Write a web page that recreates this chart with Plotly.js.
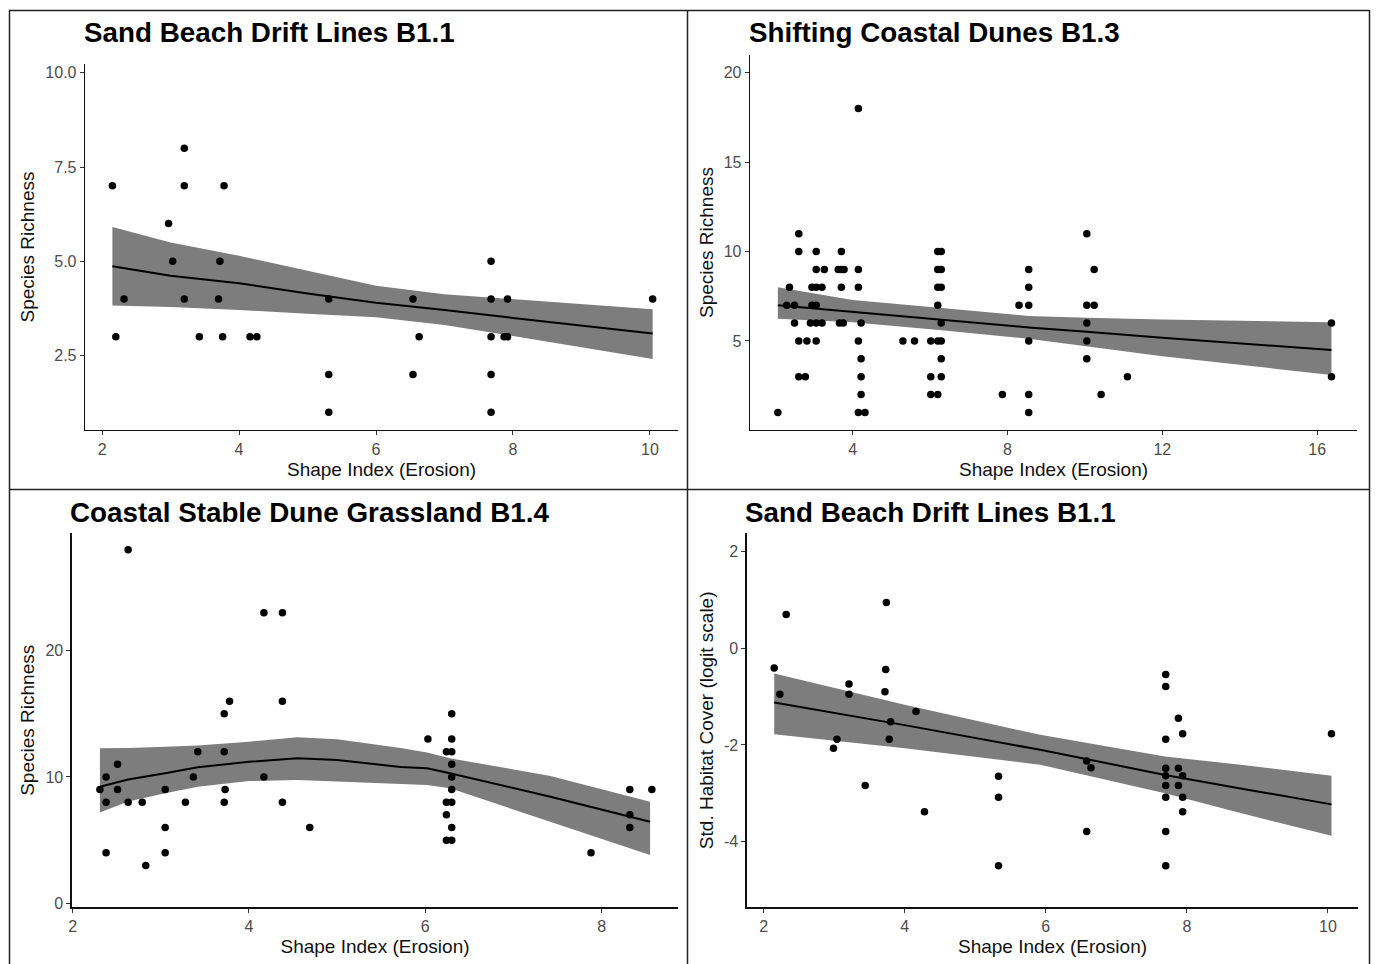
<!DOCTYPE html>
<html>
<head>
<meta charset="utf-8">
<script src="https://cdn.plot.ly/plotly-3.0.1.min.js"></script>
<style>html,body{margin:0;padding:0;background:#fff;}#chart{width:1376px;height:964px;}</style>
</head>
<body>
<div id="chart"></div>
<script>
// ---------- Data ----------
// Panel 1: Sand Beach Drift Lines B1.1 — Species Richness
const p1X = [2.15, 2.2, 2.32, 2.97, 3.03, 3.2, 3.2, 3.2, 3.42, 3.7, 3.72, 3.76, 3.78, 4.16, 4.26, 5.31, 5.31, 5.31, 6.54, 6.54, 6.63, 7.68, 7.68, 7.68, 7.68, 7.68, 7.87, 7.92, 7.92, 10.04];
const p1Y = [7, 3, 4, 6, 5, 8, 7, 4, 3, 4, 5, 3, 7, 3, 3, 4, 2, 1, 4, 2, 3, 5, 4, 3, 2, 1, 3, 3, 4, 4];
const fit1X = [2.15, 3, 4, 5, 6, 7, 8, 9, 10.04];
const fit1Y = [4.87, 4.62, 4.42, 4.15, 3.9, 3.71, 3.5, 3.3, 3.09];
const fit1Hi = [5.91, 5.5, 5.15, 4.75, 4.35, 4.13, 4.0, 3.85, 3.73];
const fit1Lo = [3.83, 3.79, 3.71, 3.61, 3.52, 3.31, 3.02, 2.73, 2.41];

// Panel 2: Shifting Coastal Dunes B1.3 — Species Richness
const p2X = [2.61, 2.61, 3.06, 3.71, 3.06, 3.27, 3.63, 3.71, 3.78, 4.15,
             2.37, 2.95, 3.06, 3.21, 3.71, 4.15, 2.30, 2.50, 2.95, 3.06,
             2.50, 2.91, 3.06, 3.21, 3.66, 3.76, 4.22, 2.61, 2.82, 3.06, 4.15,
             4.22, 2.61, 2.78, 4.22, 4.22, 2.07, 4.15, 4.32, 4.15,
             6.20, 6.29, 6.20, 6.29, 8.55, 6.20, 6.29, 8.55, 6.20, 8.30, 8.55,
             6.29, 5.30, 5.60, 6.02, 6.20, 6.29, 8.55, 6.29, 6.02, 6.29,
             6.02, 6.20, 7.87, 8.55, 8.55,
             10.05, 10.24, 10.05, 10.24, 10.05, 10.05, 10.05, 11.1, 10.42, 16.37, 16.37];
const p2Y = [11, 10, 10, 10, 9, 9, 9, 9, 9, 9,
             8, 8, 8, 8, 8, 8, 7, 7, 7, 7,
             6, 6, 6, 6, 6, 6, 6, 5, 5, 5, 5,
             4, 3, 3, 3, 2, 1, 1, 1, 18,
             10, 10, 9, 9, 9, 8, 8, 8, 7, 7, 7,
             6, 5, 5, 5, 5, 5, 5, 4, 3, 3,
             2, 2, 2, 2, 1,
             11, 9, 7, 7, 6, 5, 4, 3, 2, 6, 3];
const fit2X = [2.07, 4, 6.3, 8.55, 10.05, 12, 16.37];
const fit2Y = [7.0, 6.63, 6.17, 5.76, 5.51, 5.18, 4.49];
const fit2Hi = [8.0, 7.3, 6.85, 6.4, 6.3, 6.2, 6.05];
const fit2Lo = [6.25, 6.05, 5.6, 5.12, 4.7, 4.15, 3.1];

// Panel 3: Coastal Stable Dune Grassland B1.4 — Species Richness
const p3X = [2.31, 2.38, 2.38, 2.38, 2.51, 2.51, 2.63, 2.63, 2.79, 2.83, 3.05, 3.05, 3.05, 3.28, 3.37, 3.42,
             3.72, 3.78, 3.72, 3.73, 3.72, 4.17, 4.38, 4.38, 4.17, 4.38, 4.69,
             6.30, 6.03, 6.30, 6.24, 6.30, 6.30, 6.30, 6.30, 6.24, 6.30, 6.24, 6.30, 6.24, 6.30,
             7.88, 8.32, 8.57, 8.32, 8.32];
const p3Y = [9, 10, 8, 4, 11, 9, 28, 8, 8, 3, 9, 6, 4, 8, 10, 12,
             15, 16, 12, 9, 8, 23, 23, 16, 10, 8, 6,
             15, 13, 13, 12, 12, 11, 10, 9, 8, 8, 7, 6, 5, 5,
             4, 9, 9, 7, 6];
const fit3X = [2.31, 2.63, 3.05, 3.42, 4.0, 4.55, 5.0, 5.72, 6.02, 6.28, 7.42, 8.55];
const fit3Y = [9.23, 9.8, 10.3, 10.77, 11.2, 11.48, 11.35, 10.8, 10.69, 10.3, 8.44, 6.46];
const fit3Hi = [12.27, 12.3, 12.4, 12.5, 12.8, 13.14, 12.98, 12.3, 11.93, 11.48, 10.08, 8.04];
const fit3Lo = [7.18, 8.05, 8.71, 9.23, 9.68, 9.76, 9.63, 9.45, 9.37, 9.1, 6.46, 3.82];

// Panel 4: Sand Beach Drift Lines B1.1 — Std. Habitat Cover (logit scale)
const p4X = [2.15, 2.23, 2.32, 2.99, 3.04, 3.21, 3.21, 3.44, 3.74, 3.73, 3.72, 3.80, 3.78, 4.16, 4.28, 5.33, 5.33, 5.33,
             6.58, 6.64, 6.58, 7.70, 7.70, 7.70, 7.70, 7.70, 7.70, 7.70, 7.70, 7.70,
             7.88, 7.94, 7.88, 7.94, 7.88, 7.94, 7.94, 10.05];
const p4Y = [-0.41, -0.95, 0.70, -2.07, -1.88, -0.74, -0.95, -2.84, 0.95, -0.44, -0.90, -1.52, -1.88, -1.31, -3.38, -2.65, -3.08, -4.50,
             -2.33, -2.47, -3.79, -0.54, -0.79, -1.88, -2.48, -2.64, -2.84, -3.08, -3.79, -4.50,
             -1.45, -1.77, -2.48, -2.64, -2.84, -3.08, -3.38, -1.77];
const fit4X = [2.15, 4, 5.92, 7.69, 8.76, 10.05];
const fit4Y = [-1.12, -1.59, -2.10, -2.62, -2.90, -3.23];
const fit4Hi = [-0.52, -1.17, -1.79, -2.24, -2.41, -2.64];
const fit4Lo = [-1.78, -2.07, -2.41, -3.0, -3.41, -3.88];

// Titles and tick labels
const titles = ["Sand Beach Drift Lines B1.1", "Shifting Coastal Dunes B1.3", "Coastal Stable Dune Grassland B1.4", "Sand Beach Drift Lines B1.1"];
const xTitle = "Shape Index (Erosion)";
const yTitles = ["Species Richness", "Species Richness", "Species Richness", "Std. Habitat Cover (logit scale)"];
const xTicks1 = [2, 4, 6, 8, 10];
const yTicks1 = [2.5, 5, 7.5, 10];
const yTickText1 = ["2.5", "5.0", "7.5", "10.0"];
const xTicks2 = [4, 8, 12, 16];
const yTicks2 = [5, 10, 15, 20];
const xTicks3 = [2, 4, 6, 8];
const yTicks3 = [0, 10, 20];
const xTicks4 = [2, 4, 6, 8, 10];
const yTicks4 = [-4, -2, 0, 2];
const yTickText4 = ["-4", "-2", "0", "2"];

// ---------- Build ----------
const W = 1376, H = 964;
const PX = v => v / W;
const PY = v => 1 - v / H;
const FONT = "Liberation Sans, Arial, Helvetica, sans-serif";

function panel(xs, ys, fx, fy, hi, lo, n) {
  const xa = n === 1 ? 'x' : 'x' + n;
  const ya = n === 1 ? 'y' : 'y' + n;
  return [
    { type: 'scatter', mode: 'lines', x: fx.concat(fx.slice().reverse()), y: hi.concat(lo.slice().reverse()),
      fill: 'toself', fillcolor: 'rgb(125,125,125)', line: { width: 0, color: 'rgba(0,0,0,0)' },
      xaxis: xa, yaxis: ya, hoverinfo: 'skip' },
    { type: 'scatter', mode: 'lines', x: fx, y: fy, line: { color: '#000', width: 2 }, xaxis: xa, yaxis: ya },
    { type: 'scatter', mode: 'markers', x: xs, y: ys, marker: { color: '#000', size: 7.5 }, xaxis: xa, yaxis: ya }
  ];
}

const data = [].concat(
  panel(p1X, p1Y, fit1X, fit1Y, fit1Hi, fit1Lo, 1),
  panel(p2X, p2Y, fit2X, fit2Y, fit2Hi, fit2Lo, 2),
  panel(p3X, p3Y, fit3X, fit3Y, fit3Hi, fit3Lo, 3),
  panel(p4X, p4Y, fit4X, fit4Y, fit4Hi, fit4Lo, 4)
);

function ax(extra) {
  return Object.assign({
    showgrid: false, zeroline: false, showline: true, linecolor: '#111', linewidth: 1.3,
    ticks: 'outside', ticklen: 4, tickwidth: 1, tickcolor: '#333',
    tickfont: { family: FONT, size: 16, color: '#4d4d4d' },
    fixedrange: true
  }, extra);
}
function xt() { return { text: xTitle, font: { family: FONT, size: 19, color: '#111' }, standoff: 6 }; }
function yt(i) { return { text: yTitles[i], font: { family: FONT, size: 19, color: '#111' }, standoff: 5 }; }

const layout = {
  width: W, height: H,
  margin: { l: 0, r: 0, t: 0, b: 0 },
  paper_bgcolor: '#fff', plot_bgcolor: '#fff',
  showlegend: false, hovermode: false,
  xaxis:  ax({ domain: [PX(85), PX(678)], range: [1.75, 10.41], anchor: 'y', tickvals: xTicks1, title: xt() }),
  yaxis:  ax({ domain: [PY(430), PY(64)], range: [0.53, 10.23], anchor: 'x', tickvals: yTicks1, ticktext: yTickText1, title: yt(0) }),
  xaxis2: ax({ domain: [PX(750), PX(1357)], range: [1.35, 17.03], anchor: 'y2', tickvals: xTicks2, title: xt() }),
  yaxis2: ax({ domain: [PY(430), PY(55)], range: [0.02, 21], anchor: 'x2', tickvals: yTicks2, title: yt(1) }),
  xaxis3: ax({ domain: [PX(71.7), PX(678.3)], range: [1.99, 8.87], anchor: 'y3', tickvals: xTicks3, title: xt() }),
  yaxis3: ax({ domain: [PY(907.3), PY(533.3)], range: [-0.32, 29.3], anchor: 'x3', tickvals: yTicks3, title: yt(2) }),
  xaxis4: ax({ domain: [PX(746.7), PX(1358.3)], range: [1.76, 10.43], anchor: 'y4', tickvals: xTicks4, title: xt() }),
  yaxis4: ax({ domain: [PY(907.3), PY(533.3)], range: [-5.36, 2.38], anchor: 'x4', tickvals: yTicks4, ticktext: yTickText4, title: yt(3) }),
  annotations: [
    [82, 33], [747, 33], [68, 512], [743, 512]
  ].map((p, i) => ({
    text: titles[i], xref: 'paper', yref: 'paper', x: PX(p[0]), y: PY(p[1]),
    xanchor: 'left', yanchor: 'middle', showarrow: false,
    font: { family: FONT, size: 27.8, color: '#000', weight: 'bold' }
  })),
  shapes: [
    { type: 'rect', xref: 'paper', yref: 'paper', x0: PX(9.5), x1: PX(1369.5), y0: PY(970), y1: PY(10.5), line: { color: '#222', width: 1.5 } },
    { type: 'line', xref: 'paper', yref: 'paper', x0: PX(687.5), x1: PX(687.5), y0: PY(970), y1: PY(10.5), line: { color: '#222', width: 1.5 } },
    { type: 'line', xref: 'paper', yref: 'paper', x0: PX(9.5), x1: PX(1369.5), y0: PY(489.5), y1: PY(489.5), line: { color: '#222', width: 1.5 } }
  ]
};

Plotly.newPlot('chart', data, layout, { staticPlot: true, displayModeBar: false });
</script>
</body>
</html>
